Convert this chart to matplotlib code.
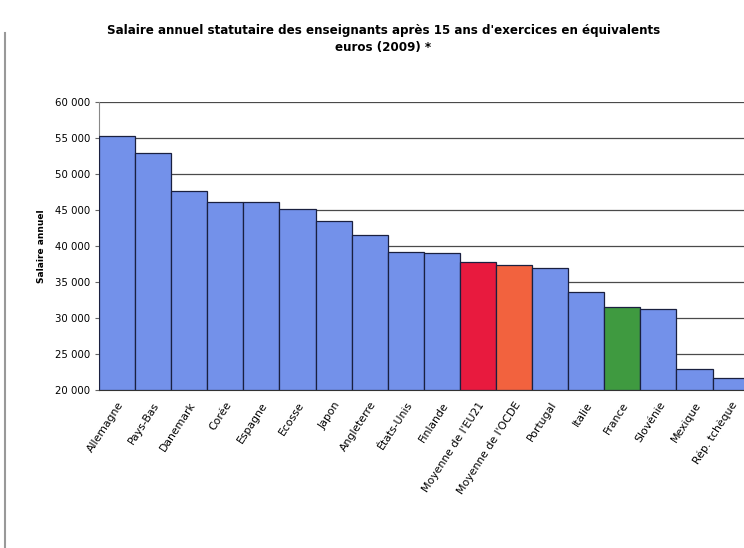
import matplotlib.pyplot as plt
from matplotlib.ticker import FuncFormatter

pays = ["Allemagne", "Pays-Bas", "Danemark", "Corée", "Espagne", "Ecosse",
        "Japon", "Angleterre", "États-Unis", "Finlande", "Moyenne de l'EU21",
        "Moyenne de l'OCDE", "Portugal", "Italie", "France", "Slovénie",
        "Mexique", "Rép. tchèque"]
salaires = [55300, 52900, 47600, 46100, 46100, 45100, 43500, 41500, 39200,
            39000, 37800, 37400, 36900, 33600, 31500, 31200, 23000, 21700]

BLEU = "#7391ea"
couleurs_speciales = {"Moyenne de l'EU21": "#e81a3e",
                      "Moyenne de l'OCDE": "#f2623e",
                      "France": "#3f9a40"}
couleurs = [couleurs_speciales.get(p, BLEU) for p in pays]

fig = plt.figure(figsize=(7.44, 5.48), dpi=100)
ax = fig.add_axes([0.133, 0.288, 0.867, 0.526])

x = list(range(len(pays)))
ax.bar(x, [s - 20000 for s in salaires], bottom=20000, width=1.0,
       color=couleurs, edgecolor="#1a2040", linewidth=0.9, zorder=3)

ax.set_ylim(20000, 60000)
ax.set_xlim(-0.5, 17.37)
ax.set_yticks(range(20000, 60001, 5000))
ax.yaxis.set_major_formatter(FuncFormatter(lambda v, p: f"{int(v):,}".replace(",", " ")))
ax.grid(axis="y", color="#4a4a4a", linewidth=0.9, zorder=0)

ax.set_xticks(x)
ax.set_xticklabels(pays, rotation=57, ha="right", rotation_mode="anchor",
                   fontsize=7.8)
ax.tick_params(axis="x", length=0, pad=7)
ax.tick_params(axis="y", labelsize=7.3, length=3, color="#666666")
for s in ["top", "right"]:
    ax.spines[s].set_visible(False)
ax.spines["left"].set_color("#888888")
ax.spines["bottom"].set_color("#333333")

ax.set_ylabel("Salaire annuel", fontsize=6.5, fontweight="bold", labelpad=6)

fig.text(0.515, 0.945, "Salaire annuel statutaire des enseignants après 15 ans d'exercices en équivalents",
         ha="center", va="center", fontsize=8.6, fontweight="bold")
fig.text(0.515, 0.914, "euros (2009) *", ha="center", va="center",
         fontsize=8.6, fontweight="bold")

fig.lines.append(plt.Line2D([0.007, 0.007], [0.0, 0.94], transform=fig.transFigure,
                            color="#999999", linewidth=1.5))

fig.savefig("out.png", dpi=100)
